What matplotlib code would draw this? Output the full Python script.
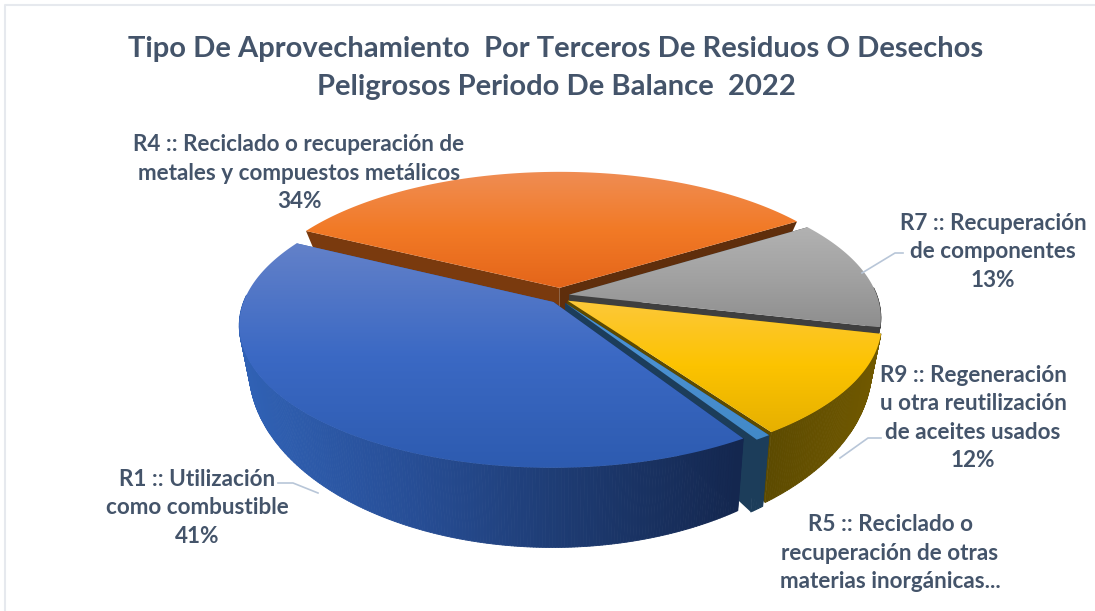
import numpy as np
import matplotlib
matplotlib.use('Agg')
import matplotlib.pyplot as plt
from matplotlib.collections import PolyCollection
from matplotlib.colors import LinearSegmentedColormap
from matplotlib.patches import Polygon

plt.rcParams['font.family'] = ['Lato', 'DejaVu Sans']

# data, clockwise starting from the back left edge of R4
codes = ['R4', 'R7', 'R9', 'R5', 'R1']
names = ['Reciclado o recuperación de\nmetales y compuestos metálicos',
         'Recuperación\nde componentes',
         'Regeneración\nu otra reutilización\nde aceites usados',
         'Reciclado o\nrecuperación de otras\nmaterias inorgánicas...',
         'Utilización\ncomo combustible']
values = [33.5, 12.7, 11.7, 0.7, 41.4]
show_pct = [True, True, True, False, True]
title = 'Tipo De Aprovechamiento  Por Terceros De Residuos O Desechos\nPeligrosos Periodo De Balance  2022'

# styles
top_colors = [['#ef8d54', '#f27a26', '#e4651a'],
              ['#b2b2b2', '#a2a2a2', '#8e8e8e'],
              ['#fdc83a', '#fcc300', '#e6b000'],
              ['#4c94d6', '#4a90d0', '#4289c8'],
              ['#6381c9', '#3b69c4', '#2d5bb0']]
wall_colors = [['#5f2e0c', '#7a3a0e'],
               ['#3f3f3f', '#3f3f3f'],
               ['#5c4a00', '#715900'],
               ['#1c3d5a', '#1c3d5a'],
               ['#3061b4', '#274e96', '#1d3a70', '#14274f']]
label_pos = [(299, 172), (993, 251), (973, 417), (890, 552), (197, 507)]
leaders = [None,
           [(862, 273), (895, 253), (903, 253)],
           [(840, 458), (868, 438), (881, 438)],
           None,
           [(278, 483), (293, 483), (318, 493)]]
text_color = '#44546a'
leader_color = '#b8c6d8'
border_color = '#e6e9ee'

# pie geometry in pixels
cx, cy = 560, 296
a, b, k = 308, 137, 0.16
ex, ey = 0.03, 0.06
start = 153.0
x_shrink = 0.97


def to_top(u, v):
    w = 1 + k * v
    return cx + a * u / w, cy - b * v / w


def to_bottom(x, y):
    d = 79 + 0.26 * (y - 465)
    return cx + (x - cx) * x_shrink, y + d


fig = plt.figure(figsize=(10.95, 6.11), dpi=100)
ax = fig.add_axes([0, 0, 1, 1])
ax.set_xlim(0, 1095)
ax.set_ylim(611, 0)
ax.axis('off')

# only the left and top edges of the frame show
ax.plot([5, 5, 1095], [611, 5, 5], color=border_color, lw=1.5, zorder=1)

total = sum(values)
theta = start
for i, val in enumerate(values):
    sweep = val / total * 360
    t = np.radians(np.linspace(theta, theta - sweep, max(int(sweep * 2), 6)))
    mid = np.radians(theta - sweep / 2)
    theta -= sweep

    ou, ov = ex * np.cos(mid), ey * np.sin(mid)
    ax_, ay_ = to_top(ou, ov)
    xs, ys = to_top(ou + np.cos(t), ov + np.sin(t))
    bxs, bys = to_bottom(xs, ys)
    bax, bay = to_bottom(ax_, ay_)

    wall_cmap = LinearSegmentedColormap.from_list('w', wall_colors[i])

    # radial walls
    ax.add_patch(Polygon([(ax_, ay_), (xs[0], ys[0]), (bxs[0], bys[0]), (bax, bay)],
                         fc=wall_colors[i][-1], ec='none', zorder=2 + i))
    ax.add_patch(Polygon([(ax_, ay_), (xs[-1], ys[-1]), (bxs[-1], bys[-1]), (bax, bay)],
                         fc=wall_colors[i][0], ec='none', zorder=2 + i))

    # outer wall, coloured along x, front part only
    quads = []
    pos = []
    for j in range(len(xs) - 1):
        if np.sin(t[j]) < 0.05 or np.sin(t[j + 1]) < 0.05:
            quads.append([(xs[j], ys[j]), (xs[j + 1], ys[j + 1]), (bxs[j + 1], bys[j + 1]), (bxs[j], bys[j])])
            if codes[i] == 'R1':
                pos.append((xs[j] - 245) / (742 - 245))
            else:
                pos.append((xs[j] - xs.min()) / max(xs.max() - xs.min(), 1))
    if quads:
        cols = wall_cmap(np.clip(pos, 0, 1))
        ax.add_collection(PolyCollection(quads, facecolors=cols, edgecolors=cols, linewidths=0.6,
                                         zorder=2 + i))

    # top face with vertical gradient
    outline = np.column_stack([np.r_[ax_, xs], np.r_[ay_, ys]])
    poly = Polygon(outline, fc='none', ec='none', transform=ax.transData, zorder=2 + i)
    ax.add_patch(poly)
    cmap = LinearSegmentedColormap.from_list('t', top_colors[i])
    grad = np.linspace(0, 1, 256).reshape(-1, 1)
    im = ax.imshow(grad, cmap=cmap, aspect='auto', origin='upper', zorder=2.5 + i,
                   extent=(outline[:, 0].min(), outline[:, 0].max(),
                           outline[:, 1].max(), outline[:, 1].min()))
    im.set_clip_path(poly)

ax.set_xlim(0, 1095)
ax.set_ylim(611, 0)

for i, code in enumerate(codes):
    txt = code + ' :: ' + names[i]
    if show_pct[i]:
        txt += '\n%.0f%%' % values[i]
    ax.text(label_pos[i][0], label_pos[i][1] + 1, txt, ha='center', va='center', fontsize=16.2,
            fontweight='bold', color=text_color, linespacing=1.44, zorder=20)
    if leaders[i] is not None:
        pts = np.array(leaders[i])
        ax.plot(pts[:, 0], pts[:, 1], color=leader_color, lw=1.2, zorder=10)

ax.text(556, 68, title, ha='center', va='center', fontsize=21, fontweight='bold',
        color=text_color, linespacing=1.54, zorder=20)

fig.savefig('out.png', dpi=100)
